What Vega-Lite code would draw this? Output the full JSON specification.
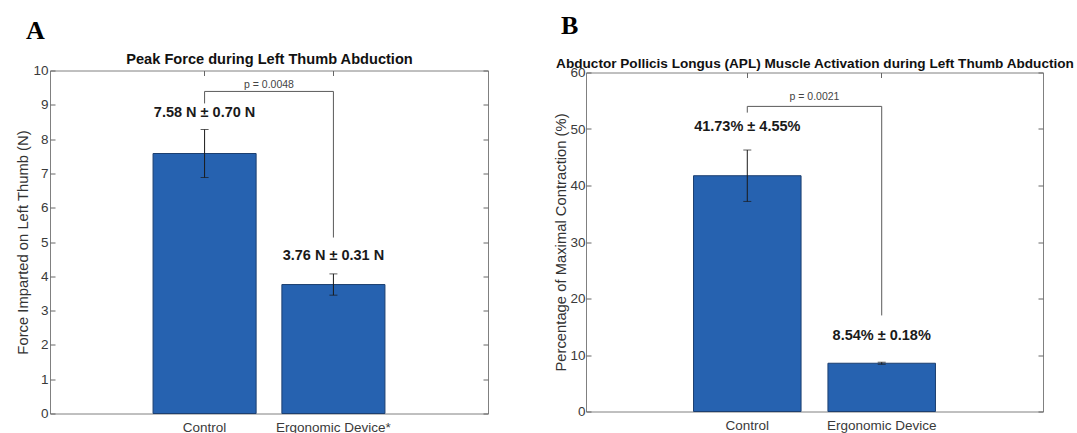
{
  "$schema": "https://vega.github.io/schema/vega-lite/v6.json",
  "padding": {"left": 15, "top": 12.5, "right": 0, "bottom": 0},
  "spacing": 64,
  "center": true,
  "datasets": {
    "barsA": [
      {"group": "Control", "mean": 7.58, "sd": 0.70, "label": "7.58 N ± 0.70 N", "label_y": 8.75},
      {"group": "Ergonomic Device*", "mean": 3.76, "sd": 0.31, "label": "3.76 N ± 0.31 N", "label_y": 4.6}
    ],
    "bracketA": [
      {"group": "Control", "y": 9.04, "seq": 1},
      {"group": "Control", "y": 9.39, "seq": 2},
      {"group": "Ergonomic Device*", "y": 9.39, "seq": 3},
      {"group": "Ergonomic Device*", "y": 5.13, "seq": 4}
    ],
    "pA": [{"group": "Control", "y": 9.58, "p": "p = 0.0048"}],
    "barsB": [
      {"group": "Control", "mean": 41.73, "sd": 4.55, "label": "41.73% ± 4.55%", "label_y": 50.3},
      {"group": "Ergonomic Device", "mean": 8.54, "sd": 0.18, "label": "8.54% ± 0.18%", "label_y": 13.3}
    ],
    "bracketB": [
      {"group": "Control", "y": 52.9, "seq": 1},
      {"group": "Control", "y": 54.0, "seq": 2},
      {"group": "Ergonomic Device", "y": 54.0, "seq": 3},
      {"group": "Ergonomic Device", "y": 17.0, "seq": 4}
    ],
    "pB": [{"group": "Control", "y": 55.6, "p": "p = 0.0021"}]
  },
  "hconcat": [
    {
      "width": 438,
      "height": 343,
      "title": {"text": "A", "anchor": "start", "frame": "group", "dx": -24, "offset": 7.5},
      "layer": [
        {
          "data": {"name": "barsA"},
          "mark": {"type": "bar", "fill": "#2662b0", "stroke": "#1c3f70", "strokeWidth": 1},
          "encoding": {
            "x": {"field": "group", "type": "nominal",
              "scale": {"domain": ["Control", "Ergonomic Device*"], "paddingInner": 0.2, "paddingOuter": 0.8},
              "axis": {"orient": "bottom", "title": null, "labelAngle": 0, "tickSize": -5, "labelPadding": 12}},
            "y": {"field": "mean", "type": "quantitative",
              "scale": {"domain": [0, 10]},
              "axis": {"orient": "left", "title": "Force Imparted on Left Thumb (N)", "values": [0,1,2,3,4,5,6,7,8,9,10], "tickSize": -5, "labelPadding": 7, "titlePadding": 2}}
          }
        },
        {
          "data": {"name": "barsA"},
          "mark": {"type": "errorbar", "color": "#1a1a1a", "ticks": {"size": 8, "thickness": 1}},
          "encoding": {
            "x": {"field": "group", "type": "nominal", "axis": null},
            "y": {"field": "mean", "type": "quantitative", "axis": null},
            "yError": {"field": "sd"}
          }
        },
        {
          "data": {"name": "barsA"},
          "mark": {"type": "text", "fontWeight": "bold", "fontSize": 14.5, "color": "#1a1a1a", "baseline": "middle"},
          "encoding": {
            "x": {"field": "group", "type": "nominal", "axis": null},
            "y": {"field": "label_y", "type": "quantitative", "axis": null},
            "text": {"field": "label"}
          }
        },
        {
          "data": {"name": "bracketA"},
          "mark": {"type": "line", "color": "#5a5a5a", "strokeWidth": 1},
          "encoding": {
            "x": {"field": "group", "type": "nominal",
              "axis": {"orient": "top", "title": "Peak Force during Left Thumb Abduction", "labels": false, "tickSize": -5, "titlePadding": 3.5, "titleFontWeight": "bold", "titleFontSize": 14.6, "titleColor": "#111"}},
            "y": {"field": "y", "type": "quantitative",
              "axis": {"orient": "right", "title": null, "labels": false, "values": [0,1,2,3,4,5,6,7,8,9,10], "tickSize": -5}},
            "order": {"field": "seq"}
          }
        },
        {
          "data": {"name": "pA"},
          "mark": {"type": "text", "fontSize": 10.5, "color": "#444", "dx": 64.4, "baseline": "middle"},
          "encoding": {
            "x": {"field": "group", "type": "nominal", "axis": null},
            "y": {"field": "y", "type": "quantitative", "axis": null},
            "text": {"field": "p"}
          }
        }
      ]
    },
    {
      "width": 457,
      "height": 339,
      "title": {"text": "B", "anchor": "start", "frame": "group", "dx": -25, "offset": 17},
      "layer": [
        {
          "data": {"name": "barsB"},
          "mark": {"type": "bar", "fill": "#2662b0", "stroke": "#1c3f70", "strokeWidth": 1},
          "encoding": {
            "x": {"field": "group", "type": "nominal",
              "scale": {"domain": ["Control", "Ergonomic Device"], "paddingInner": 0.2, "paddingOuter": 0.8},
              "axis": {"orient": "bottom", "title": null, "labelAngle": 0, "tickSize": -5, "labelPadding": 12}},
            "y": {"field": "mean", "type": "quantitative",
              "scale": {"domain": [0, 60]},
              "axis": {"orient": "left", "title": "Percentage of Maximal Contraction (%)", "values": [0,10,20,30,40,50,60], "tickSize": -5, "labelPadding": 6, "titlePadding": 1}}
          }
        },
        {
          "data": {"name": "barsB"},
          "mark": {"type": "errorbar", "color": "#1a1a1a", "ticks": {"size": 8, "thickness": 1}},
          "encoding": {
            "x": {"field": "group", "type": "nominal", "axis": null},
            "y": {"field": "mean", "type": "quantitative", "axis": null},
            "yError": {"field": "sd"}
          }
        },
        {
          "data": {"name": "barsB"},
          "mark": {"type": "text", "fontWeight": "bold", "fontSize": 14.5, "color": "#1a1a1a", "baseline": "middle"},
          "encoding": {
            "x": {"field": "group", "type": "nominal", "axis": null},
            "y": {"field": "label_y", "type": "quantitative", "axis": null},
            "text": {"field": "label"}
          }
        },
        {
          "data": {"name": "bracketB"},
          "mark": {"type": "line", "color": "#5a5a5a", "strokeWidth": 1},
          "encoding": {
            "x": {"field": "group", "type": "nominal",
              "axis": {"orient": "top", "title": "Abductor Pollicis Longus (APL) Muscle Activation during Left Thumb Abduction", "labels": false, "tickSize": -5, "titlePadding": 2, "titleFontWeight": "bold", "titleFontSize": 13.6, "titleColor": "#111"}},
            "y": {"field": "y", "type": "quantitative",
              "axis": {"orient": "right", "title": null, "labels": false, "values": [0,10,20,30,40,50,60], "tickSize": -5}},
            "order": {"field": "seq"}
          }
        },
        {
          "data": {"name": "pB"},
          "mark": {"type": "text", "fontSize": 10.5, "color": "#444", "dx": 67.2, "baseline": "middle"},
          "encoding": {
            "x": {"field": "group", "type": "nominal", "axis": null},
            "y": {"field": "y", "type": "quantitative", "axis": null},
            "text": {"field": "p"}
          }
        }
      ]
    }
  ],
  "config": {
    "background": "white",
    "view": {"stroke": "#808080", "strokeWidth": 1},
    "font": "Liberation Sans",
    "axis": {
      "domain": false, "grid": false,
      "labelFont": "Liberation Sans", "labelFontSize": 13.5, "labelColor": "#3a3a3a",
      "tickColor": "#666", "tickWidth": 1,
      "titleFont": "Liberation Sans", "titleFontSize": 14.8, "titleFontWeight": "normal", "titleColor": "#333"
    },
    "title": {"font": "Liberation Serif", "fontSize": 26, "fontWeight": "bold", "color": "#000"},
    "text": {"font": "Liberation Sans"}
  }
}
